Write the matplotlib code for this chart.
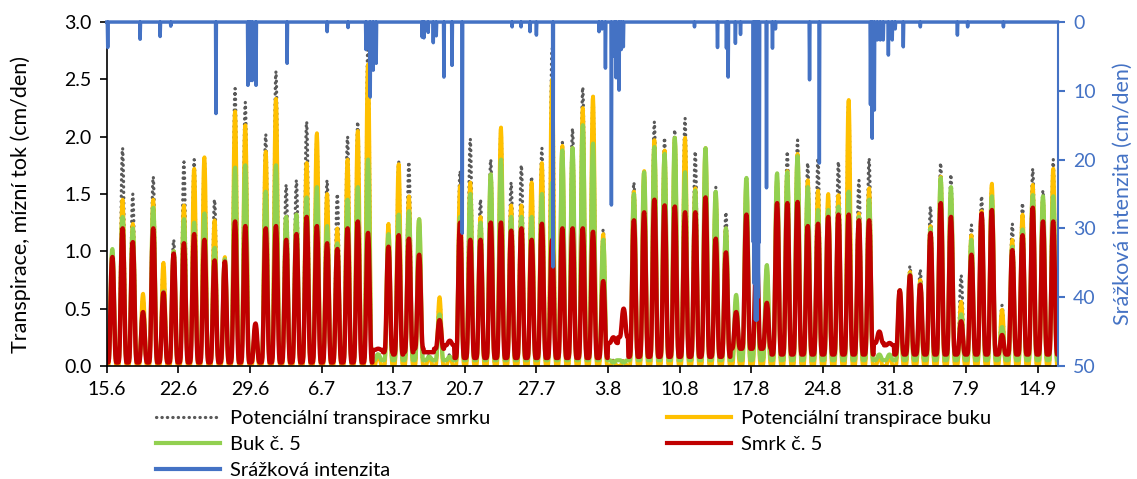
import numpy as np
import matplotlib.pyplot as plt
from matplotlib.lines import Line2D

plt.rcParams['font.family'] = ['Lato', 'DejaVu Sans']

# day 0 = 15.6, one entry per day (daily maximum, cm/den)
TICK_DAYS = list(range(0, 92, 7))
TICK_LABELS = ["15.6", "22.6", "29.6", "6.7", "13.7", "20.7", "27.7",
               "3.8", "10.8", "17.8", "24.8", "31.8", "7.9", "14.9"]
N_DAYS = 93

POT_SMRK = [1.02, 1.90, 1.50, 0.60, 1.65, 0.90, 1.10, 1.78, 1.80, 1.82,
            1.45, 0.95, 2.42, 2.30, 0.37, 2.02, 2.57, 1.58, 1.62, 2.13,
            2.00, 1.62, 1.50, 2.00, 2.13, 2.83, 0.12, 1.24, 1.78, 1.78,
            1.28, 0.10, 0.60, 0.10, 1.70, 1.98, 1.45, 1.80, 2.08, 1.60,
            1.75, 1.65, 1.90, 2.77, 1.95, 2.07, 2.43, 2.35, 1.19, 0.05,
            0.05, 1.60, 1.70, 2.13, 1.99, 2.06, 2.16, 1.87, 1.90, 1.56,
            1.34, 0.60, 1.64, 1.00, 0.88, 1.67, 1.87, 1.97, 1.77, 1.81,
            1.50, 1.78, 2.32, 1.62, 1.81, 0.10, 0.10, 0.66, 0.87, 0.84,
            1.39, 1.77, 1.67, 0.79, 1.23, 1.48, 1.59, 0.53, 1.24, 1.42,
            1.72, 1.53, 1.80]
POT_BUK = [1.00, 1.45, 1.24, 0.63, 1.45, 0.90, 1.00, 1.40, 1.72, 1.82,
           1.27, 0.95, 2.22, 2.10, 0.35, 1.87, 2.33, 1.30, 1.32, 1.77,
           2.03, 1.50, 1.20, 1.80, 2.05, 2.63, 0.10, 1.24, 1.76, 1.48,
           1.28, 0.08, 0.60, 0.08, 1.57, 1.60, 1.30, 1.67, 2.08, 1.40,
           1.40, 1.60, 1.77, 2.50, 1.92, 1.90, 2.25, 2.35, 1.15, 0.04,
           0.04, 1.52, 1.70, 1.97, 1.88, 1.99, 1.99, 1.55, 1.90, 1.50,
           1.20, 0.50, 1.60, 0.95, 0.85, 1.62, 1.70, 1.85, 1.62, 1.53,
           1.50, 1.49, 2.32, 1.33, 1.55, 0.08, 0.08, 0.66, 0.82, 0.75,
           1.22, 1.65, 1.50, 0.56, 1.14, 1.35, 1.59, 0.49, 1.10, 1.32,
           1.58, 1.45, 1.72]
BUK_5 = [1.02, 1.30, 1.20, 0.47, 1.38, 0.65, 1.00, 1.28, 1.25, 1.33,
         1.03, 0.93, 1.73, 1.75, 0.30, 1.52, 1.75, 1.30, 1.32, 1.47,
         1.56, 1.22, 1.07, 1.45, 1.56, 1.80, 0.10, 1.15, 1.32, 1.35,
         1.28, 0.08, 0.45, 0.08, 1.30, 1.50, 1.25, 1.67, 1.80, 1.30,
         1.30, 1.30, 1.50, 1.60, 1.88, 1.90, 2.10, 1.94, 1.10, 0.03,
         0.03, 1.50, 1.69, 1.91, 1.85, 1.99, 1.69, 1.53, 1.90, 1.52,
         1.20, 0.62, 1.64, 0.95, 0.88, 1.68, 1.69, 1.83, 1.56, 1.36,
         1.36, 1.39, 1.52, 1.30, 1.45, 0.10, 0.10, 0.66, 0.80, 0.72,
         1.20, 1.64, 1.56, 0.45, 1.10, 1.33, 1.48, 0.34, 1.04, 1.19,
         1.49, 1.48, 1.48]
SMRK_5 = [0.95, 1.20, 1.08, 0.47, 1.20, 0.64, 0.98, 1.07, 1.15, 1.10,
          0.92, 0.91, 1.26, 1.22, 0.37, 1.20, 1.22, 1.10, 1.15, 1.30,
          1.22, 1.07, 1.02, 1.20, 1.26, 1.16, 0.15, 1.04, 1.14, 1.11,
          0.97, 0.12, 0.40, 0.22, 1.25, 1.10, 1.10, 1.25, 1.25, 1.18,
          1.20, 1.10, 1.24, 1.10, 1.20, 1.20, 1.20, 1.17, 0.74, 0.25,
          0.50, 1.27, 1.34, 1.45, 1.40, 1.39, 1.34, 1.34, 1.47, 1.11,
          0.99, 0.47, 1.32, 1.00, 0.55, 1.42, 1.42, 1.43, 1.22, 1.24,
          1.30, 1.32, 1.32, 1.27, 1.27, 0.30, 0.20, 0.66, 0.79, 0.71,
          1.16, 1.42, 1.30, 0.39, 0.97, 1.33, 1.36, 0.27, 1.01, 1.14,
          1.38, 1.26, 1.26]
# night-time sap flow of the spruce (does not drop to zero after rain)
SMRK_5_NOC = ([0.03] * 26 + [0.14, 0.12, 0.10, 0.12, 0.15, 0.12, 0.15, 0.18]
              + [0.07] * 15 + [0.20, 0.25] + [0.08] * 10 + [0.15] * 4
              + [0.10] * 10 + [0.20, 0.18] + [0.10] * 16)
BUK_5_NOC = 0.05

# relative course of transpiration over the day, hours 0..23
DENNI_PRUBEH = [0.0, 0.0, 0.0, 0.0, 0.01, 0.04, 0.13, 0.28, 0.47, 0.66,
                0.82, 0.93, 0.99, 1.0, 0.96, 0.87, 0.72, 0.53, 0.33, 0.17,
                0.07, 0.02, 0.0, 0.0]

# precipitation events: day (from 15.6) and intensity (cm/den)
SRAZKY_DEN = [0.10, 3.23, 5.19, 6.26, 10.67, 13.80, 13.99, 14.19, 14.58,
              17.61, 21.53, 23.58, 25.34, 25.73, 26.03, 26.32, 30.82, 31.02,
              31.41, 31.90, 32.19, 32.97, 33.76, 34.74, 39.63, 40.51, 41.39,
              41.98, 43.64, 48.14, 48.43, 48.73, 49.32, 49.61, 49.80, 50.10,
              50.29, 50.49, 57.44, 59.69, 60.57, 60.76, 61.45, 61.94, 63.21,
              63.30, 63.41, 63.50, 63.60, 63.70, 63.80, 64.48, 65.07, 65.36,
              68.69, 69.67, 74.66, 74.85, 75.05, 75.34, 75.64, 75.93, 76.42,
              76.81, 77.10, 77.89, 79.55, 83.17, 84.15, 87.67]
SRAZKY_INT = [3.7, 2.5, 2.1, 0.6, 13.3, 9.2, 8.5, 8.5, 9.2,
              6.0, 1.4, 0.8, 4.0, 10.9, 7.0, 6.0, 2.2, 2.3,
              1.5, 3.0, 2.0, 8.0, 6.3, 30.7, 0.7, 0.7, 1.4,
              1.9, 35.6, 1.4, 1.0, 6.7, 26.6, 5.0, 8.1, 9.9,
              4.0, 3.6, 0.7, 3.7, 3.8, 8.0, 3.1, 1.8, 32.0,
              38.0, 43.3, 43.3, 43.3, 40.0, 32.0, 24.1, 3.8, 1.0,
              8.4, 20.5, 12.0, 16.9, 12.8, 2.6, 2.6, 2.6, 4.8,
              2.6, 1.0, 3.6, 0.7, 1.9, 0.7, 0.7]

C_SMRK_POT = "#595959"
C_BUK_POT = "#FFC000"
C_BUK = "#92D050"
C_SMRK = "#C00000"
C_SRAZKY = "#4472C4"


def hodinove(maxima, noc):
    noc = np.broadcast_to(np.asarray(noc, dtype=float), (len(maxima),))
    prubeh = np.asarray(DENNI_PRUBEH)
    return np.concatenate([n + (m - n) * prubeh for m, n in zip(maxima, noc)])


t = np.arange(N_DAYS * 24) / 24.0
srazky = np.zeros(N_DAYS * 24)
for d, v in zip(SRAZKY_DEN, SRAZKY_INT):
    srazky[int(round(d * 24))] = v

fig = plt.figure(figsize=(11.37, 4.79), dpi=100)
ax = fig.add_axes([0.094, 0.236, 0.8365, 0.718])
ax2 = ax.twinx()

ax.plot(t, hodinove(POT_SMRK, 0.0), color=C_SMRK_POT, lw=2.3,
        linestyle=(0, (0.1, 1.6)), dash_capstyle="round")
ax.plot(t, hodinove(POT_BUK, 0.0), color=C_BUK_POT, lw=2.8)
ax.plot(t, hodinove(BUK_5, BUK_5_NOC), color=C_BUK, lw=3.0)
ax.plot(t, hodinove(SMRK_5, SMRK_5_NOC), color=C_SMRK, lw=3.2)
ax2.plot(t, srazky, color=C_SRAZKY, lw=2.5, clip_on=False)

ax.set_xlim(0, N_DAYS)
ax.set_ylim(0, 3)
ax.set_yticks(np.arange(0, 3.01, 0.5))
ax.set_yticklabels([f"{v:.1f}" for v in np.arange(0, 3.01, 0.5)])
ax.set_xticks(TICK_DAYS)
ax.set_xticklabels(TICK_LABELS)
ax2.set_ylim(50, 0)
ax2.set_yticks(range(0, 51, 10))

for s in ("top", "right"):
    ax.spines[s].set_visible(False)
for s in ("top", "left", "bottom"):
    ax2.spines[s].set_visible(False)
ax.spines["left"].set_linewidth(1.2)
ax.spines["bottom"].set_linewidth(1.2)
ax2.spines["right"].set_color(C_SRAZKY)
ax2.spines["right"].set_linewidth(1.5)

ax.tick_params(axis="both", direction="out", length=5, width=1.2,
               labelsize=14, pad=6)
ax2.tick_params(axis="y", direction="out", length=5, width=1.5,
                color=C_SRAZKY, labelcolor=C_SRAZKY, labelsize=14, pad=6)

ax.set_ylabel("Transpirace, mízní tok (cm/den)", fontsize=15.5)
ax.yaxis.set_label_coords(-0.08, 0.47)
ax2.set_ylabel("Srážková intenzita (cm/den)", fontsize=15.5, color=C_SRAZKY,
               rotation=90)
ax2.yaxis.set_label_coords(1.058, 0.5)

handles = [
    Line2D([], [], color=C_SMRK_POT, lw=2.3, linestyle=(0, (0.1, 1.6)),
           dash_capstyle="round"),
    Line2D([], [], color=C_BUK, lw=3),
    Line2D([], [], color=C_SRAZKY, lw=3),
    Line2D([], [], color=C_BUK_POT, lw=3),
    Line2D([], [], color=C_SMRK, lw=3),
]
labels = ["Potenciální transpirace smrku", "Buk č. 5", "Srážková intenzita",
          "Potenciální transpirace buku", "Smrk č. 5"]
fig.legend(handles, labels, ncol=2, loc="upper left",
           bbox_to_anchor=(0.128, 0.165), frameon=False, fontsize=14.5,
           handlelength=3.2, handletextpad=0.5, columnspacing=8.75,
           labelspacing=0.45, borderpad=0.0)

fig.savefig("out.png", dpi=100)
